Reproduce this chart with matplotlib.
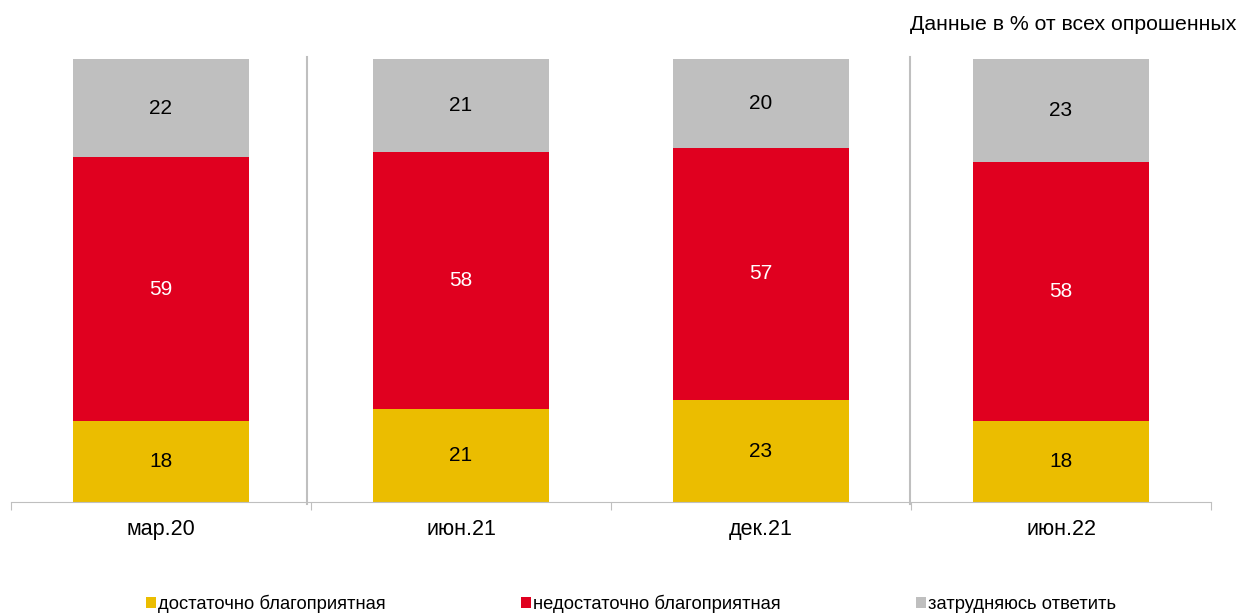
import numpy as np
import matplotlib.pyplot as plt

plt.rcParams['font.family'] = ['Liberation Sans', 'DejaVu Sans']

periods = ['мар.20', 'июн.21', 'дек.21', 'июн.22']
favorable = [18, 21, 23, 18]
unfavorable = [59, 58, 57, 58]
hard_to_say = [22, 21, 20, 23]
series_names = ['достаточно благоприятная', 'недостаточно благоприятная', 'затрудняюсь ответить']
colors = ['#EBBD00', '#E0001F', '#BFBFBF']
label_colors = ['black', 'white', 'black']

fig = plt.figure(figsize=(12.41, 6.15), dpi=100)
ax = fig.add_axes([11 / 1241, 113 / 615, 1200 / 1241, 443 / 615])

x = np.arange(len(periods))
data = np.array([favorable, unfavorable, hard_to_say], dtype=float)
totals = data.sum(axis=0)
shares = data / totals * 100  # 100% stacked

bottom = np.zeros(len(periods))
for i in range(3):
    ax.bar(x, shares[i], 0.587, bottom=bottom, color=colors[i], label=series_names[i])
    for xi, b, h, v in zip(x, bottom, shares[i], data[i]):
        ax.text(xi, b + h / 2, f'{v:.0f}', ha='center', va='center',
                fontsize=15, color=label_colors[i])
    bottom += shares[i]

ax.set_xlim(-0.5, 3.5)
ax.set_ylim(0, 100)
ax.set_yticks([])
for s in ['top', 'right', 'left']:
    ax.spines[s].set_visible(False)
ax.spines['bottom'].set_color('#BFBFBF')
ax.set_xticks(np.arange(-0.5, 4, 1))
ax.set_xticklabels([])
ax.tick_params(axis='x', length=6, color='#BFBFBF')
for xi, p in zip(x, periods):
    ax.text(xi, -6.2, p, ha='center', va='center', fontsize=15.5)

# separator lines
for sx in [0.487, 2.497]:
    ax.plot([sx, sx], [-0.5, 100.5], color='#BFBFBF', lw=1.5, clip_on=False)

fig.text(1236 / 1241, 1 - 25 / 615, 'Данные в % от всех опрошенных',
         ha='right', va='center', fontsize=15.3)

fig.legend(loc='center', bbox_to_anchor=(631 / 1241, 1 - 604 / 615), ncol=3,
           frameon=False, fontsize=13.2, handlelength=0.55, handleheight=0.55,
           handletextpad=0.1, columnspacing=7.4, borderpad=0)

fig.savefig('out.png', dpi=100)
